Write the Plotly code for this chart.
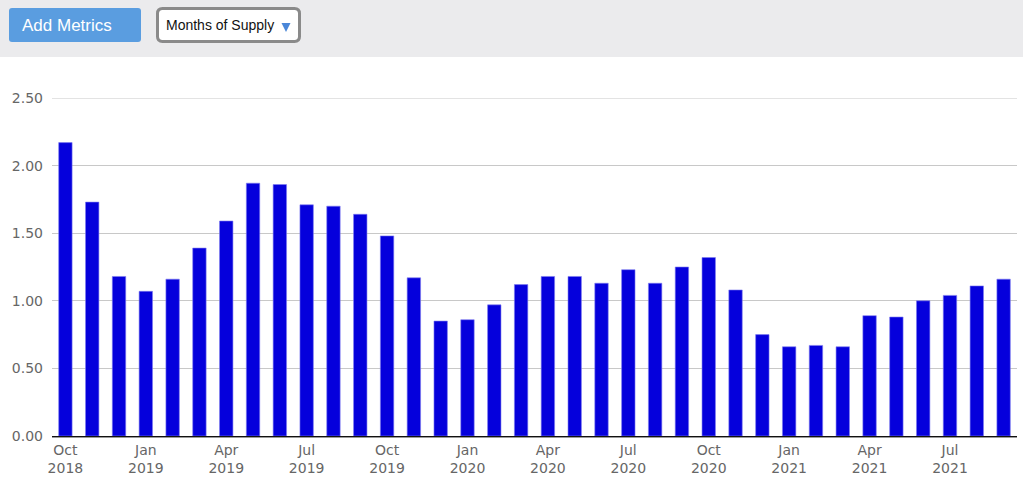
import plotly.graph_objects as go

months = ["2018-10", "2018-11", "2018-12",
          "2019-01", "2019-02", "2019-03", "2019-04", "2019-05", "2019-06",
          "2019-07", "2019-08", "2019-09", "2019-10", "2019-11", "2019-12",
          "2020-01", "2020-02", "2020-03", "2020-04", "2020-05", "2020-06",
          "2020-07", "2020-08", "2020-09", "2020-10", "2020-11", "2020-12",
          "2021-01", "2021-02", "2021-03", "2021-04", "2021-05", "2021-06",
          "2021-07", "2021-08", "2021-09"]
months_of_supply = [2.17, 1.73, 1.18,
                    1.07, 1.16, 1.39, 1.59, 1.87, 1.86,
                    1.71, 1.70, 1.64, 1.48, 1.17, 0.85,
                    0.86, 0.97, 1.12, 1.18, 1.18, 1.13,
                    1.23, 1.13, 1.25, 1.32, 1.08, 0.75,
                    0.66, 0.67, 0.66, 0.89, 0.88, 1.00,
                    1.04, 1.11, 1.16]
tick_months = ["2018-10", "2019-01", "2019-04", "2019-07", "2019-10",
               "2020-01", "2020-04", "2020-07", "2020-10",
               "2021-01", "2021-04", "2021-07"]
tick_labels = ["Oct<br>2018", "Jan<br>2019", "Apr<br>2019", "Jul<br>2019", "Oct<br>2019",
               "Jan<br>2020", "Apr<br>2020", "Jul<br>2020", "Oct<br>2020",
               "Jan<br>2021", "Apr<br>2021", "Jul<br>2021"]
y_ticks = [0, 0.5, 1.0, 1.5, 2.0, 2.5]
y_tick_labels = ["0.00", "0.50", "1.00", "1.50", "2.00", "2.50"]

W, H = 1023, 485
ML, MR, MT, MB = 52, 6, 98, 49
PW, PH = W - ML - MR, H - MT - MB


def px(x):
    return (x - ML) / PW


def py(y):
    return (H - MB - y) / PH


def rounded_rect(x0, y0, x1, y1, r):
    """Rounded rectangle path in paper coords from pixel corners."""
    def p(x, y):
        return f"{px(x):.5f},{py(y):.5f}"
    return (f"M {p(x0 + r, y0)} L {p(x1 - r, y0)} Q {p(x1, y0)} {p(x1, y0 + r)} "
            f"L {p(x1, y1 - r)} Q {p(x1, y1)} {p(x1 - r, y1)} "
            f"L {p(x0 + r, y1)} Q {p(x0, y1)} {p(x0, y1 - r)} "
            f"L {p(x0, y0 + r)} Q {p(x0, y0)} {p(x0 + r, y0)} Z")


fig = go.Figure()
fig.add_trace(go.Bar(
    x=months, y=months_of_supply,
    marker=dict(color="#0500dc", line=dict(color="#7f7cf0", width=0.6)),
    hoverinfo="x+y",
))

fig.update_layout(
    width=W, height=H,
    margin=dict(l=ML, r=MR, t=MT, b=MB, pad=0),
    paper_bgcolor="white",
    plot_bgcolor="white",
    bargap=0.5,
    showlegend=False,
    font=dict(family="DejaVu Sans, Lucida Grande, sans-serif", size=13, color="#666666"),
    xaxis=dict(
        type="category",
        categoryorder="array", categoryarray=months,
        range=[-0.5, len(months) - 0.5],
        tickmode="array", tickvals=tick_months, ticktext=tick_labels,
        showgrid=False, showline=True, linecolor="#111111", linewidth=2,
        ticks="", ticklabelstandoff=0,
        tickfont=dict(size=14, color="#666666"),
        fixedrange=True,
    ),
    yaxis=dict(
        range=[0, 2.5],
        tickmode="array", tickvals=y_ticks, ticktext=y_tick_labels,
        showgrid=True, gridcolor="#c8c8c8", gridwidth=1,
        zeroline=False, showline=False, ticks="",
        tickfont=dict(size=14, color="#666666"),
        ticklabelstandoff=8,
        fixedrange=True,
    ),
    shapes=[
        # top toolbar band
        dict(type="rect", xref="paper", yref="paper",
             x0=px(0), x1=px(W), y0=py(57), y1=py(0),
             fillcolor="#ebebed", line=dict(width=0), layer="below"),
        # Add Metrics button
        dict(type="path", xref="paper", yref="paper",
             path=rounded_rect(9, 8, 141, 42, 3),
             fillcolor="#5a9de0", line=dict(width=0)),
        # dropdown box
        dict(type="path", xref="paper", yref="paper",
             path=rounded_rect(157.5, 8.5, 299.5, 41.5, 5),
             fillcolor="white", line=dict(color="#8a8a8a", width=3)),
        # dropdown triangle
        dict(type="path", xref="paper", yref="paper",
             path=f"M {px(281.5)},{py(23)} L {px(290.5)},{py(23)} L {px(286)},{py(32)} Z",
             fillcolor="#4a86d8", line=dict(width=0)),
        # top gridline (edge of range)
        dict(type="line", xref="paper", yref="y",
             x0=0, x1=1, y0=y_ticks[-1], y1=y_ticks[-1],
             line=dict(color="#c8c8c8", width=1), layer="below"),
        # shadow under zero line
        dict(type="line", xref="paper", yref="paper",
             x0=0, x1=1, y0=py(437.5), y1=py(437.5),
             line=dict(color="#9a9a9a", width=1)),
    ],
    annotations=[
        dict(text="Add Metrics", xref="paper", yref="paper",
             x=px(67), y=py(25.5),
             showarrow=False, xanchor="center", yanchor="middle",
             font=dict(family="Liberation Sans, Arial, sans-serif", size=17, color="white")),
        dict(text="Months of Supply", xref="paper", yref="paper",
             x=px(164), y=py(25.5),
             showarrow=False, xanchor="left", yanchor="middle",
             font=dict(family="Liberation Sans, Arial, sans-serif", size=14, color="#111111")),
    ],
)

fig.write_html("out.html", config={"displayModeBar": False},
               post_script="document.body.style.margin='0';")
